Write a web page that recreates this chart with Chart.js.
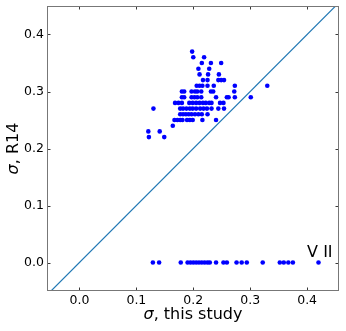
<!DOCTYPE html>
<html lang="en">
<head>
    <meta charset="UTF-8">
    <title>sigma comparison</title>
    <script src="https://cdn.jsdelivr.net/npm/chart.js"></script>
    <style>
        body { margin: 0; background: #fff; }
        #wrap { width: 346px; height: 331px; }
    </style>
</head>
<body>
    <div id="wrap"><canvas id="sigmaChart" width="346" height="331"></canvas></div>

    <script>
        // sigma from R14 (one value per row) and the matching sigma from this study
        const r14Levels = [0.37, 0.36, 0.35, 0.34, 0.33, 0.32, 0.31, 0.30, 0.29, 0.28, 0.27, 0.26, 0.25, 0.24, 0.23, 0.22];
        const studyByLevel = [
            [0.198],
            [0.200, 0.219],
            [0.215, 0.231, 0.249],
            [0.209, 0.228],
            [0.211, 0.226, 0.245],
            [0.217, 0.225, 0.244, 0.249, 0.254],
            [0.206, 0.211, 0.216, 0.225, 0.236, 0.273, 0.330],
            [0.180, 0.184, 0.197, 0.203, 0.207, 0.214, 0.231, 0.235, 0.272],
            [0.180, 0.184, 0.197, 0.202, 0.207, 0.214, 0.240, 0.259, 0.262, 0.273, 0.301],
            [0.168, 0.174, 0.180, 0.193, 0.199, 0.205, 0.211, 0.217, 0.222, 0.228, 0.232, 0.247, 0.253],
            [0.130, 0.177, 0.182, 0.188, 0.194, 0.199, 0.205, 0.212, 0.218, 0.224, 0.232, 0.244, 0.254],
            [0.177, 0.182, 0.187, 0.192, 0.197, 0.203, 0.209, 0.215, 0.225],
            [0.167, 0.172, 0.177, 0.181, 0.189, 0.194, 0.199, 0.216, 0.240],
            [0.164],
            [0.121, 0.141],
            [0.122, 0.149]
        ];
        // stars with no R14 value (plotted at 0)
        const zeroRowStudy = [0.129, 0.140, 0.178, 0.190, 0.195, 0.200, 0.205, 0.210, 0.215, 0.220, 0.225,
            0.229, 0.240, 0.253, 0.259, 0.276, 0.285, 0.294, 0.322, 0.352, 0.359, 0.367, 0.375, 0.420];

        const xTicks = [0.0, 0.1, 0.2, 0.3, 0.4];
        const yTicks = [0.0, 0.1, 0.2, 0.3, 0.4];
        const xRange = [-0.057, 0.456];
        const yRange = [-0.05, 0.45];
        const xTitle = [['σ', true], [', this study', false]];
        const yTitle = [['σ', true], [', R14', false]];
        const noteText = 'V II';
        const noteAt = [0.40, 0.01];

        const points = [];
        r14Levels.forEach((y, i) => studyByLevel[i].forEach(x => points.push({ x: x, y: y })));
        zeroRowStudy.forEach(x => points.push({ x: x, y: 0 }));

        const FONT = 'DejaVu Sans';

        // text with an italic sigma, centred on (0,0) of the current transform
        function drawTitle(ctx, parts) {
            const fonts = parts.map(p => (p[1] ? 'italic ' : '') + '16px "' + FONT + '"');
            let total = 0;
            const widths = parts.map((p, i) => { ctx.font = fonts[i]; const w = ctx.measureText(p[0]).width; total += w; return w; });
            let cx = -total / 2;
            ctx.textAlign = 'left';
            ctx.textBaseline = 'middle';
            parts.forEach((p, i) => { ctx.font = fonts[i]; ctx.fillText(p[0], cx, 0); cx += widths[i]; });
        }

        // box on all four sides, inward ticks, axis titles and the V II note
        const framePlugin = {
            id: 'frame',
            afterDatasetsDraw(chart) {
                const { ctx, chartArea: a, scales: { x, y } } = chart;
                const len = 3.5;
                ctx.save();
                ctx.strokeStyle = '#222';
                ctx.lineWidth = 0.9;
                ctx.beginPath();
                xTicks.forEach(v => {
                    const px = Math.round(x.getPixelForValue(v)) + 0.5;
                    ctx.moveTo(px, a.bottom); ctx.lineTo(px, a.bottom - len);
                    ctx.moveTo(px, a.top); ctx.lineTo(px, a.top + len);
                });
                yTicks.forEach(v => {
                    const py = Math.round(y.getPixelForValue(v)) + 0.5;
                    ctx.moveTo(a.left, py); ctx.lineTo(a.left + len, py);
                    ctx.moveTo(a.right, py); ctx.lineTo(a.right - len, py);
                });
                ctx.stroke();
                ctx.strokeStyle = '#777';
                ctx.lineWidth = 1;
                ctx.strokeRect(a.left + 0.5, a.top + 0.5, a.right - a.left - 1, a.bottom - a.top - 1);

                ctx.fillStyle = '#000';
                ctx.font = '16px "' + FONT + '"';
                ctx.textBaseline = 'alphabetic';
                ctx.fillText(noteText, x.getPixelForValue(noteAt[0]), y.getPixelForValue(noteAt[1]));

                ctx.save();
                ctx.translate((a.left + a.right) / 2, chart.height - 16);
                drawTitle(ctx, xTitle);
                ctx.restore();

                ctx.save();
                ctx.translate(14, (a.top + a.bottom) / 2);
                ctx.rotate(-Math.PI / 2);
                drawTitle(ctx, yTitle);
                ctx.restore();
                ctx.restore();
            }
        };

        new Chart(document.getElementById('sigmaChart'), {
            type: 'scatter',
            data: {
                datasets: [
                    {
                        type: 'line',
                        data: [{ x: xRange[0], y: xRange[0] }, { x: xRange[1], y: xRange[1] }],
                        borderColor: '#1f77b4',
                        borderWidth: 1.2,
                        pointRadius: 0,
                        fill: false
                    },
                    {
                        data: points,
                        backgroundColor: '#0000ff',
                        borderWidth: 0,
                        pointRadius: 2.3
                    }
                ]
            },
            options: {
                responsive: false,
                animation: false,
                layout: { padding: { top: 6, right: 7, left: 0, bottom: 0 } },
                plugins: { legend: { display: false }, tooltip: { enabled: false } },
                scales: {
                    x: {
                        type: 'linear',
                        min: xRange[0],
                        max: xRange[1],
                        afterBuildTicks: s => { s.ticks = xTicks.map(v => ({ value: v })); },
                        afterFit: s => { s.height = 40; s.paddingLeft = 0; s.paddingRight = 0; },
                        grid: { display: false, drawTicks: false },
                        border: { display: false },
                        ticks: {
                            padding: 2,
                            color: '#000',
                            font: { family: FONT, size: 12.5 },
                            maxRotation: 0,
                            callback: v => v.toFixed(1)
                        }
                    },
                    y: {
                        type: 'linear',
                        min: yRange[0],
                        max: yRange[1],
                        afterBuildTicks: s => { s.ticks = yTicks.map(v => ({ value: v })); },
                        afterFit: s => { s.width = 47; s.paddingTop = 0; s.paddingBottom = 0; },
                        grid: { display: false, drawTicks: false },
                        border: { display: false },
                        ticks: {
                            padding: 3,
                            color: '#000',
                            font: { family: FONT, size: 12.5 },
                            callback: v => v.toFixed(1)
                        }
                    }
                }
            },
            plugins: [framePlugin]
        });
    </script>
</body>
</html>
